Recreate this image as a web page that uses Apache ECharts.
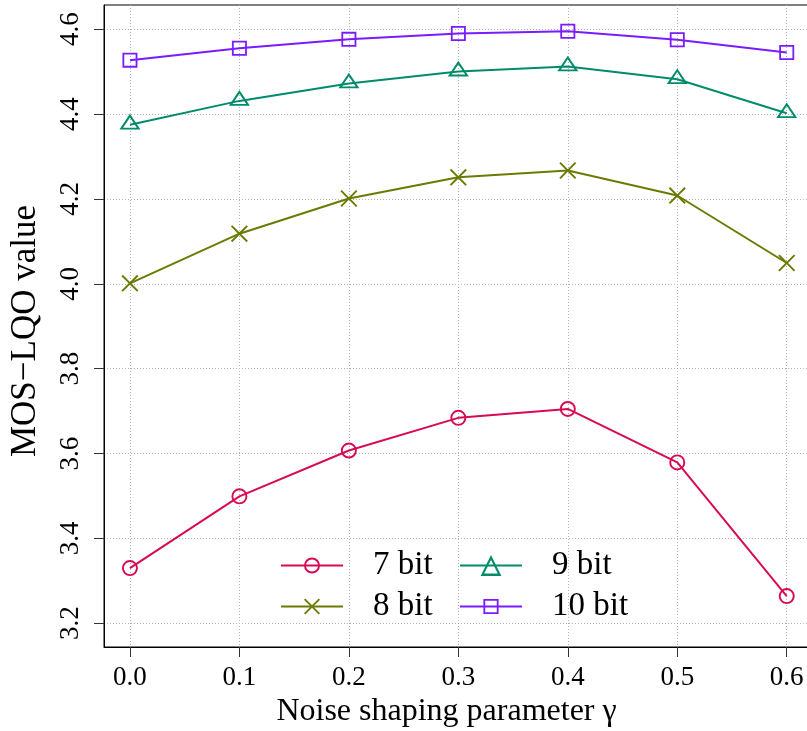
<!DOCTYPE html>
<html>
<head>
<meta charset="utf-8">
<script src="https://cdn.jsdelivr.net/npm/echarts@6/dist/echarts.min.js"></script>
<style>
  html, body { margin: 0; padding: 0; background: #fff; }
  #chart { width: 807px; height: 731px; }
</style>
</head>
<body>
<div id="chart"></div>
<script>
// Noise shaping parameter values (x) and MOS-LQO scores per bit depth
const gammaValues = [0.0, 0.1, 0.2, 0.3, 0.4, 0.5, 0.6];
const mos7bit  = [3.330, 3.499, 3.607, 3.684, 3.705, 3.579, 3.264];
const mos8bit  = [4.001, 4.118, 4.201, 4.251, 4.267, 4.208, 4.049];
const mos9bit  = [4.375, 4.431, 4.472, 4.500, 4.512, 4.482, 4.402];
const mos10bit = [4.527, 4.555, 4.576, 4.590, 4.595, 4.575, 4.545];
const seriesNames = ['7 bit', '8 bit', '9 bit', '10 bit'];
const xTickValues = [0.0, 0.1, 0.2, 0.3, 0.4, 0.5, 0.6];
const yTickValues = [3.2, 3.4, 3.6, 3.8, 4.0, 4.2, 4.4, 4.6];

// Hollow marker outlines drawn as ring-shaped paths (transparent centre)
const ringCircle = 'path://M50,0 A50,50 0 1,1 50,100 A50,50 0 1,1 50,0 Z M50,12 A38,38 0 1,0 50,88 A38,38 0 1,0 50,12 Z';
const ringSquare = 'path://M0,0 H100 V100 H0 Z M12,12 V88 H88 V12 Z';
const ringTriangle = 'path://M50,0 L100,86.6 L0,86.6 Z M50,20 L17.32,76.6 L82.68,76.6 Z';
const crossMark = 'path://M0,8 L8,0 L50,42 L92,0 L100,8 L58,50 L100,92 L92,100 L50,58 L8,100 L0,92 L42,50 Z';

const colors = ['#d70a53', '#6b7a00', '#008c6b', '#7a1cff'];
const serif = '"Liberation Serif", "DejaVu Serif", serif';

function pairs(ys) { return gammaValues.map((x, i) => [x, ys[i]]); }

function makeSeries(name, ys, color, symbol, size, offset) {
  return {
    name: name,
    type: 'line',
    data: pairs(ys),
    symbol: symbol,
    symbolSize: size,
    symbolOffset: offset || [0, 0],
    symbolKeepAspect: true,
    showAllSymbol: true,
    itemStyle: { color: color },
    lineStyle: { color: color, width: 2 },
    emphasis: { disabled: true },
    z: 3
  };
}

function makeLegend(name, left, top, itemHeight) {
  return {
    data: [name],
    left: left,
    top: top,
    padding: 0,
    itemWidth: 62,
    itemHeight: itemHeight,
    selectedMode: false,
    textStyle: { fontFamily: serif, fontSize: 33, color: '#000', padding: [0, 0, 0, 25] }
  };
}

const chart = echarts.init(document.getElementById('chart'), null, { renderer: 'canvas' });

chart.setOption({
  animation: false,
  backgroundColor: '#fff',
  grid: {
    left: 104, top: 5, right: -6, bottom: 84,
    outerBoundsMode: 'none',
    containLabel: false,
    show: true, borderColor: '#000', borderWidth: 1, backgroundColor: 'transparent'
  },
  xAxis: {
    type: 'value',
    min: -0.0237, max: 0.624,
    name: 'Noise shaping parameter γ',
    nameLocation: 'middle',
    nameGap: 48,
    nameTextStyle: { fontFamily: serif, fontSize: 32, color: '#000', padding: [0, 24, 0, 0] },
    axisLine: { show: true, onZero: false, lineStyle: { color: '#000', width: 1 } },
    axisTick: { show: true, length: 10, customValues: xTickValues, lineStyle: { color: '#333' } },
    axisLabel: {
      customValues: xTickValues,
      margin: 17,
      fontFamily: serif, fontSize: 27, color: '#000',
      formatter: v => v.toFixed(1)
    },
    splitLine: { show: true, lineStyle: { color: '#b5b5b5', width: 1, type: [1, 2] } }
  },
  yAxis: {
    type: 'value',
    min: 3.144, max: 4.657,
    name: 'MOS−LQO value',
    nameLocation: 'middle',
    nameRotate: 90,
    nameGap: 61,
    nameTextStyle: { fontFamily: serif, fontSize: 35, color: '#000', padding: [0, 10, 0, 0] },
    axisLine: { show: true, onZero: false, lineStyle: { color: '#000', width: 1 } },
    axisTick: { show: true, length: 10, customValues: yTickValues, lineStyle: { color: '#333' } },
    axisLabel: {
      customValues: yTickValues,
      rotate: 90,
      margin: 20,
      fontFamily: serif, fontSize: 27, color: '#000',
      formatter: v => v.toFixed(1)
    },
    splitLine: { show: true, lineStyle: { color: '#b5b5b5', width: 1, type: [1, 2] } }
  },
  legend: [
    makeLegend(seriesNames[0], 280, 549, 20),
    makeLegend(seriesNames[2], 459, 549, 26),
    makeLegend(seriesNames[1], 280, 590, 20),
    makeLegend(seriesNames[3], 459, 590, 19)
  ],
  series: [
    makeSeries(seriesNames[0], mos7bit, colors[0], ringCircle, 16),
    makeSeries(seriesNames[1], mos8bit, colors[1], crossMark, 17),
    makeSeries(seriesNames[2], mos9bit, colors[2], ringTriangle, [21, 18], [0, -3]),
    makeSeries(seriesNames[3], mos10bit, colors[3], ringSquare, 15)
  ]
});
</script>
</body>
</html>
